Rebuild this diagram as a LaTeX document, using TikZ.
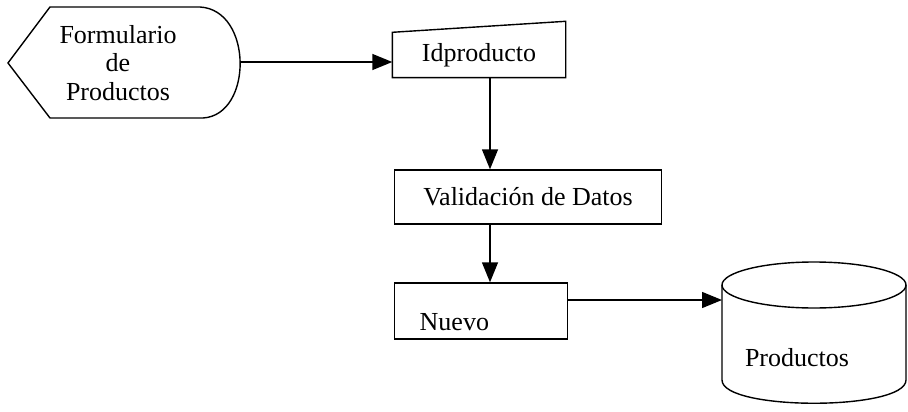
\documentclass[tikz,border=0pt]{standalone}
\usepackage{fontspec}
\setmainfont{Liberation Serif}
\usetikzlibrary{arrows.meta}

\begin{document}
\begin{tikzpicture}[x=1pt, y=-1pt, line width=1.4pt,
    every node/.style={font=\fontsize{26}{28.5}\selectfont, inner sep=0pt},
    box/.style={draw, rectangle},
    arr/.style={-{Triangle[length=20pt, width=16pt]}}]
    \useasboundingbox (0,0) rectangle (908,412);
    % Formulario de Productos (display)
    \node[align=center] (form) at (118,63) {Formulario\\de\\Productos};
    \coordinate (formR) at (240,62);
    \draw (50,7) -- (200,7) .. controls (253,10) and (253,115) .. (203,118) -- (50,118) -- (8,63) -- cycle;
    % Idproducto (manual input)
    \node[minimum width=172pt, minimum height=44pt] (idp) at (479,55) {Idproducto};
    \draw (idp.south west) -- (idp.north west) -- ([yshift=11pt]idp.north east) -- (idp.south east) -- cycle;
    \draw[arr] (formR) -- (idp.west |- formR);
    % Validacion de Datos
    \node[box, minimum width=267pt, minimum height=54pt] (val) at (528,197) {Validación de Datos};
    \coordinate (c1) at (490,0);
    \draw[arr] (idp.south -| c1) -- (val.north -| c1);
    % Nuevo
    \node[box, minimum width=173pt, minimum height=56pt] (nuevo) at (481,311) {};
    \node[anchor=west] (nuevolbl) at (419,322) {Nuevo};
    \draw[arr] (val.south -| c1) -- (nuevo.north -| c1);
    % Productos (store)
    \draw (814,285) ellipse [x radius=92pt, y radius=23pt];
    \draw (722,285) -- (722,380) .. controls (722,411) and (906,411) .. (906,380) -- (906,285);
    \node (db) at (797,358) {Productos};
    \coordinate (dbL) at (722,300);
    \draw[arr] (nuevo.east |- dbL) -- (dbL);
\end{tikzpicture}
\end{document}
